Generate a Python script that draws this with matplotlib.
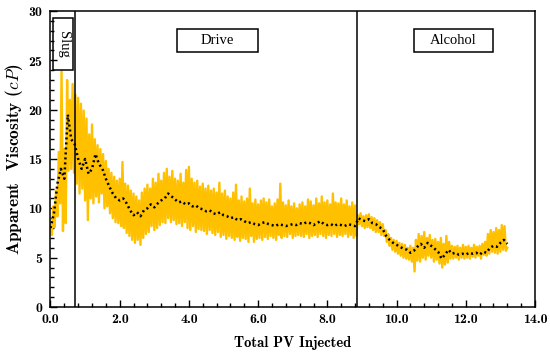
import numpy as np
import matplotlib
matplotlib.use("Agg")
import matplotlib.pyplot as plt
from matplotlib.patches import Rectangle
from matplotlib.ticker import MultipleLocator, FormatStrFormatter

plt.rcParams['mathtext.fontset'] = 'cm'
plt.rcParams['axes.formatter.use_mathtext'] = True

# raw apparent viscosity (cP), sampled every 0.04 PV from 0.0 to 13.2
raw_step = 0.04
raw_visc = [
    8.6, 7.3, 10.2, 8.1, 11.8, 9.2, 15.7, 10.5, 23.9, 7.7,
    16.0, 8.5, 23.0, 13.8, 21.0, 14.0, 22.6, 13.6, 21.5, 12.5,
    21.2, 11.5, 20.6, 12.0, 19.9, 10.8, 19.1, 8.8, 17.5, 11.0,
    18.5, 10.5, 17.0, 11.2, 16.4, 10.6, 16.0, 11.5, 15.5, 10.0,
    14.8, 10.2, 14.0, 9.5, 13.6, 9.0, 13.2, 8.6, 12.8, 8.5,
    13.0, 8.2, 14.7, 8.0, 12.5, 7.5, 12.3, 7.2, 11.8, 6.8,
    11.5, 6.5, 11.2, 6.8, 10.8, 6.3, 11.6, 7.0, 12.0, 7.4,
    12.4, 7.6, 12.0, 8.2, 13.0, 7.8, 12.6, 8.0, 13.5, 8.3,
    12.8, 8.6, 13.6, 8.5, 14.0, 9.0, 13.2, 8.6, 13.8, 8.8,
    13.0, 8.4, 12.8, 8.5, 13.5, 8.2, 12.6, 8.6, 13.9, 8.0,
    14.2, 7.8, 13.0, 8.2, 12.6, 7.6, 12.8, 7.9, 12.2, 7.8,
    12.5, 7.7, 12.0, 7.4, 12.3, 7.8, 11.8, 7.5, 12.0, 7.3,
    11.6, 7.6, 12.6, 7.1, 11.5, 7.3, 11.8, 6.9, 11.2, 7.2,
    11.0, 7.0, 11.6, 6.8, 12.4, 7.1, 10.8, 6.7, 11.2, 7.0,
    10.7, 6.9, 11.0, 6.6, 12.0, 7.2, 10.5, 6.6, 10.9, 6.9,
    10.4, 7.0, 10.8, 6.8, 11.0, 7.1, 10.6, 6.9, 10.9, 7.2,
    10.2, 7.0, 10.5, 6.8, 10.9, 7.3, 12.5, 7.0, 10.6, 7.2,
    10.3, 7.1, 10.8, 7.4, 10.2, 7.0, 10.5, 7.2, 10.0, 7.3,
    10.4, 7.2, 10.6, 7.1, 10.2, 7.4, 10.9, 7.0, 10.7, 7.2,
    10.3, 7.3, 11.0, 7.1, 10.5, 7.4, 11.2, 7.2, 10.6, 7.0,
    10.8, 7.3, 10.4, 7.2, 11.5, 7.4, 10.6, 7.1, 10.5, 7.3,
    11.0, 7.2, 10.4, 7.4, 10.8, 7.1, 10.2, 7.3, 10.6, 7.0,
    10.3, 7.2, 9.3, 8.4, 9.5, 8.2, 9.2, 8.0, 9.3, 8.1,
    9.4, 8.0, 9.1, 7.8, 9.0, 7.6, 8.8, 7.6, 8.6, 7.3,
    8.4, 7.2, 7.8, 6.6, 7.4, 6.2, 7.0, 5.8, 6.8, 5.6,
    6.7, 5.4, 6.5, 5.2, 6.4, 5.0, 6.3, 4.9, 6.0, 4.8,
    6.2, 4.6, 6.0, 3.6, 6.8, 4.7, 7.4, 4.6, 7.2, 5.0,
    7.6, 4.8, 7.0, 5.2, 7.3, 5.0, 6.8, 4.6, 6.9, 4.8,
    6.6, 4.4, 7.0, 4.0, 6.4, 4.3, 7.2, 4.5, 6.6, 4.9,
    6.2, 4.9, 6.1, 5.0, 6.2, 4.8, 6.0, 5.0, 6.3, 4.9,
    6.1, 5.0, 6.2, 4.9, 6.0, 5.1, 6.3, 5.0, 6.1, 5.2,
    6.2, 4.9, 6.4, 5.3, 6.6, 5.2, 7.4, 5.4, 7.8, 5.6,
    7.6, 5.5, 8.0, 5.4, 7.8, 5.6, 8.3, 5.8, 8.2, 5.7,
    6.0,
]

# smoothed trend, every 0.1 PV from 0.0 to 13.2
avg_step = 0.1
avg_visc = [
    8.0, 9.5, 12.5, 14.0, 13.0, 19.5, 17.0, 16.5, 15.0, 14.0,
    15.0, 13.5, 14.0, 15.5, 14.5, 14.0, 13.0, 12.2, 11.5, 11.0,
    10.8, 11.0, 10.5, 9.8, 9.3, 9.6, 9.2, 9.8, 10.0, 10.4,
    10.1, 10.5, 10.8, 11.0, 11.5, 11.2, 10.9, 10.6, 10.7, 10.4,
    10.5, 10.2, 10.3, 10.0, 9.9, 9.7, 9.8, 9.5, 9.4, 9.6,
    9.3, 9.2, 9.0, 9.1, 8.8, 8.9, 8.7, 8.5, 8.6, 8.4,
    8.3, 8.5, 8.6, 8.4, 8.3, 8.2, 8.4, 8.3, 8.2, 8.3,
    8.4, 8.3, 8.5, 8.4, 8.6, 8.5, 8.3, 8.5, 8.7, 8.4,
    8.3, 8.4, 8.2, 8.4, 8.3, 8.2, 8.4, 8.3, 8.2, 9.0,
    8.8, 8.7, 8.9, 8.5, 8.4, 8.1, 7.9, 7.2, 6.8, 6.5,
    6.3, 6.1, 5.9, 5.8, 5.5, 5.7, 6.1, 6.4, 6.0, 6.5,
    6.2, 5.9, 5.6, 4.9, 5.3, 5.8, 5.4, 5.5, 5.3, 5.4,
    5.3, 5.5, 5.4, 5.5, 5.3, 5.6, 5.5, 6.0, 6.2, 6.1,
    6.5, 6.8, 6.4,
]

slug_end = 0.7
alcohol_start = 8.87

pv_raw = np.arange(len(raw_visc)) * raw_step
pv_avg = np.arange(len(avg_visc)) * avg_step

fig = plt.figure(figsize=(5.5, 3.54), dpi=100)
ax = fig.add_axes([0.0918, 0.1328, 0.8809, 0.8362])

ax.plot(pv_raw, raw_visc, color='#FFC000', lw=1.7, zorder=2)
ax.plot(pv_avg, avg_visc, color='black', lw=1.8, linestyle=(0, (0.8, 1.2)), zorder=3)

ax.axvline(slug_end, color='black', lw=1.1, zorder=4)
ax.axvline(alcohol_start, color='black', lw=1.1, zorder=4)

ax.set_xlim(0, 14)
ax.set_ylim(0, 30)
ax.xaxis.set_major_locator(MultipleLocator(2))
ax.xaxis.set_minor_locator(MultipleLocator(0.4))
ax.xaxis.set_major_formatter(FormatStrFormatter('%.1f'))
ax.yaxis.set_major_locator(MultipleLocator(5))
ax.yaxis.set_minor_locator(MultipleLocator(1))
ax.tick_params(which='both', direction='in', top=False, right=False, width=1.0)
ax.tick_params(which='major', length=5, pad=5)
ax.tick_params(which='minor', length=3)
for s in ax.spines.values():
    s.set_linewidth(1.1)

for lab in ax.get_xticklabels() + ax.get_yticklabels():
    lab.set_fontfamily('cmb10')
    lab.set_fontsize(10)

ax.set_xlabel('Total PV Injected', fontfamily='cmb10', fontsize=10.5, labelpad=7)
ax.set_ylabel(r'Apparent  Viscosity ($cP$)', fontfamily='cmb10', fontsize=12.5, labelpad=2)

# phase boxes
boxes = [((0.08, 24.0), 0.58, 5.3, 'Slug', 270),
         ((3.66, 25.8), 2.34, 2.4, 'Drive', 0),
         ((10.49, 25.8), 2.31, 2.4, 'Alcohol', 0)]
for (x0, y0), w, h, txt, rot in boxes:
    ax.add_patch(Rectangle((x0, y0), w, h, fill=False, ec='black', lw=1.1, zorder=5))
    ax.text(x0 + w / 2, y0 + h / 2, txt, rotation=rot, ha='center', va='center',
            fontfamily='Liberation Serif', fontsize=10.5, zorder=6)

fig.savefig('out.png', dpi=100)
